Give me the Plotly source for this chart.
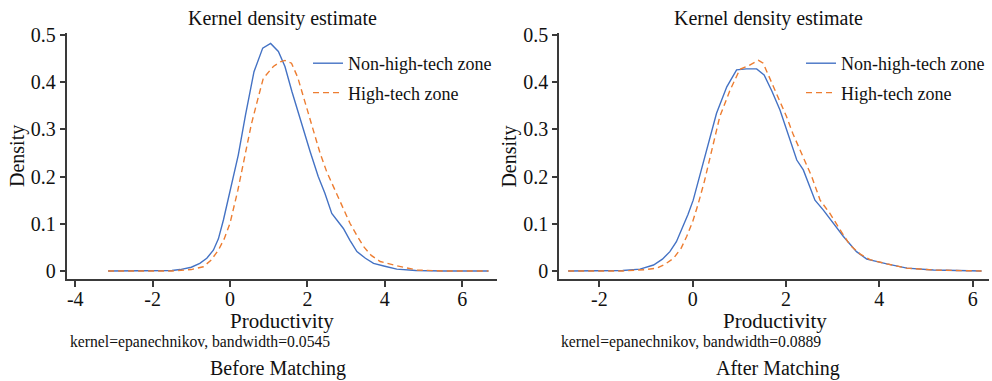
import plotly.graph_objects as go

# ---------------- data ----------------
before_nonhtz_x = [-3.15, -2.0, -1.5, -1.29, -1.0, -0.78, -0.6, -0.43, -0.3, -0.17, 0.0, 0.1, 0.215,
                   0.4, 0.62, 0.845, 1.05, 1.25, 1.42, 1.6, 1.8, 2.07, 2.28, 2.45, 2.63, 2.75, 2.93,
                   3.1, 3.28, 3.5, 3.71, 4.0, 4.31, 4.8, 5.5, 6.68]
before_nonhtz_y = [0.0, 0.0, 0.001, 0.003, 0.008, 0.016, 0.027, 0.044, 0.068, 0.108, 0.17, 0.21, 0.246,
                   0.33, 0.422, 0.472, 0.482, 0.465, 0.433, 0.38, 0.325, 0.253, 0.20, 0.165, 0.122, 0.11, 0.09,
                   0.065, 0.041, 0.027, 0.016, 0.01, 0.004, 0.001, 0.0, 0.0]

before_htz_x = [-3.15, -2.0, -1.5, -1.0, -0.69, -0.5, -0.3, -0.15, 0.0, 0.2, 0.41, 0.55, 0.69, 0.86,
                1.12, 1.3, 1.42, 1.59, 1.75, 1.9, 2.1, 2.33, 2.5, 2.67, 2.84, 3.1, 3.28, 3.45, 3.65,
                3.88, 4.31, 4.83, 5.5, 6.68]
before_htz_y = [0.0, 0.0, 0.0, 0.003, 0.009, 0.022, 0.044, 0.068, 0.101, 0.17, 0.256, 0.31, 0.355, 0.408,
                0.433, 0.443, 0.446, 0.44, 0.41, 0.369, 0.31, 0.249, 0.21, 0.179, 0.145, 0.101, 0.075, 0.052, 0.033,
                0.02, 0.011, 0.002, 0.0, 0.0]

after_nonhtz_x = [-2.67, -2.0, -1.5, -1.13, -0.84, -0.65, -0.49, -0.35, -0.24, -0.1, 0.01, 0.15, 0.30,
                  0.51, 0.73, 0.94, 1.15, 1.37, 1.53, 1.7, 1.87, 2.05, 2.23, 2.37, 2.51, 2.62, 2.8, 3.01,
                  3.23, 3.51, 3.73, 4.16, 4.59, 5.16, 6.19]
after_nonhtz_y = [0.0, 0.0, 0.001, 0.004, 0.0127, 0.025, 0.041, 0.062, 0.087, 0.12, 0.15, 0.2, 0.256,
                  0.334, 0.39, 0.426, 0.428, 0.428, 0.415, 0.38, 0.341, 0.29, 0.235, 0.214, 0.179, 0.15, 0.129, 0.101,
                  0.073, 0.041, 0.025, 0.015, 0.006, 0.002, 0.0]

after_htz_x = [-2.67, -2.0, -1.5, -1.0, -0.77, -0.6, -0.41, -0.25, -0.13, 0.0, 0.12, 0.25, 0.41, 0.58,
               0.80, 1.01, 1.2, 1.41, 1.51, 1.73, 2.01, 2.15, 2.34, 2.55, 2.73, 2.94, 3.16, 3.37, 3.6,
               3.8, 4.16, 4.59, 5.16, 6.19]
after_htz_y = [0.0, 0.0, 0.0, 0.003, 0.006, 0.014, 0.027, 0.048, 0.073, 0.105, 0.143, 0.19, 0.256, 0.327,
               0.383, 0.427, 0.435, 0.446, 0.44, 0.39, 0.327, 0.29, 0.246, 0.2, 0.15, 0.122, 0.087, 0.055, 0.035,
               0.024, 0.015, 0.006, 0.002, 0.0]

series_names = ["Non-high-tech zone", "High-tech zone"]
left_xticks = [-4, -2, 0, 2, 4, 6]
left_xticktext = ["-4", "-2", "0", "2", "4", "6"]
right_xticks = [-2, 0, 2, 4, 6]
right_xticktext = ["-2", "0", "2", "4", "6"]
y_ticks = [0, 0.1, 0.2, 0.3, 0.4, 0.5]
y_ticktext = ["0", "0.1", "0.2", "0.3", "0.4", "0.5"]
panel_titles = ["Kernel density estimate", "Kernel density estimate"]
x_title = "Productivity"
y_title = "Density"
notes = ["kernel=epanechnikov, bandwidth=0.0545", "kernel=epanechnikov, bandwidth=0.0889"]
captions = ["Before Matching", "After Matching"]

# ---------------- styling ----------------
W, H = 992, 381
FONT = "Liberation Serif, Times New Roman, serif"
BLUE = "#4472C4"
ORANGE = "#ED7D31"
AXC = "#3a3a3a"

fig = go.Figure()

fig.add_trace(go.Scatter(x=before_nonhtz_x, y=before_nonhtz_y, mode="lines", name=series_names[0],
                         line=dict(color=BLUE, width=1.4), xaxis="x", yaxis="y",
                         legend="legend", legendgroup="a"))
fig.add_trace(go.Scatter(x=before_htz_x, y=before_htz_y, mode="lines", name=series_names[1],
                         line=dict(color=ORANGE, width=1.4, dash="6px,4px"), xaxis="x", yaxis="y",
                         legend="legend", legendgroup="b"))
fig.add_trace(go.Scatter(x=after_nonhtz_x, y=after_nonhtz_y, mode="lines", name=series_names[0],
                         line=dict(color=BLUE, width=1.4), xaxis="x2", yaxis="y2",
                         legend="legend2", legendgroup="c"))
fig.add_trace(go.Scatter(x=after_htz_x, y=after_htz_y, mode="lines", name=series_names[1],
                         line=dict(color=ORANGE, width=1.4, dash="6px,4px"), xaxis="x2", yaxis="y2",
                         legend="legend2", legendgroup="d"))

ydom = [(H - 279.3) / H, (H - 33) / H]
xdom_l = [66.7 / W, 497 / W]
xdom_r = [559.3 / W, 989 / W]

common_axis = dict(showline=True, linecolor=AXC, linewidth=2, ticks="outside", tickcolor=AXC,
                   tickwidth=1.5, showgrid=False, zeroline=False, mirror=False, automargin=False,
                   tickfont=dict(family=FONT, size=20, color="#111"))

fig.update_layout(
    width=W, height=H, autosize=False,
    margin=dict(l=0, r=0, t=0, b=0, pad=0, autoexpand=False),
    paper_bgcolor="white", plot_bgcolor="white",
    font=dict(family=FONT, color="#111"),
    showlegend=True,
    xaxis=dict(domain=xdom_l, range=[-4.22, 6.90], tickvals=left_xticks, ticktext=left_xticktext,
               ticklen=6, anchor="y", ticklabelstandoff=-5, **common_axis),
    yaxis=dict(domain=ydom, range=[-0.0176, 0.504], tickvals=y_ticks, ticktext=y_ticktext, ticklen=5,
               anchor="x", **common_axis),
    xaxis2=dict(domain=xdom_r, range=[-2.86, 6.35], tickvals=right_xticks, ticktext=right_xticktext,
                ticklen=6, anchor="y2", ticklabelstandoff=-5, **common_axis),
    yaxis2=dict(domain=ydom, range=[-0.0176, 0.504], tickvals=y_ticks, ticktext=y_ticktext, ticklen=5,
                anchor="x2", **common_axis),
    legend=dict(x=308 / W, y=(H - 45) / H, xanchor="left", yanchor="top",
                font=dict(family=FONT, size=18, color="#111"), bgcolor="rgba(0,0,0,0)",
                tracegroupgap=3, itemwidth=30),
    legend2=dict(x=801 / W, y=(H - 45) / H, xanchor="left", yanchor="top",
                 font=dict(family=FONT, size=18, color="#111"), bgcolor="rgba(0,0,0,0)",
                 tracegroupgap=3, itemwidth=30),
)

ann = []
def txt(x, y, s, size, xanchor="center", angle=0):
    ann.append(dict(x=x / W, y=1 - y / H, xref="paper", yref="paper", text=s, showarrow=False,
                    xanchor=xanchor, yanchor="middle", textangle=angle,
                    font=dict(family=FONT, size=size, color="#111")))

offs = [0, 492.6]
for i in range(2):
    o = offs[i]
    txt(282 + o - (6 if i else 0), 18, panel_titles[i], 20)
    txt(282 + o, 321, x_title, 21)
    txt(17.5 + o - (1 if i else 0), 156.5, y_title, 20, angle=-90)
    txt(68 + o - (2 if i else 0), 342, notes[i], 15.7, xanchor="left")
    txt(278 + o + (7 if i else 0), 368, captions[i], 20)
fig.update_layout(annotations=ann)

fig.write_html("out.html", config={"displayModeBar": False},
               post_script="document.body.style.margin='0';document.body.style.overflow='hidden';")
